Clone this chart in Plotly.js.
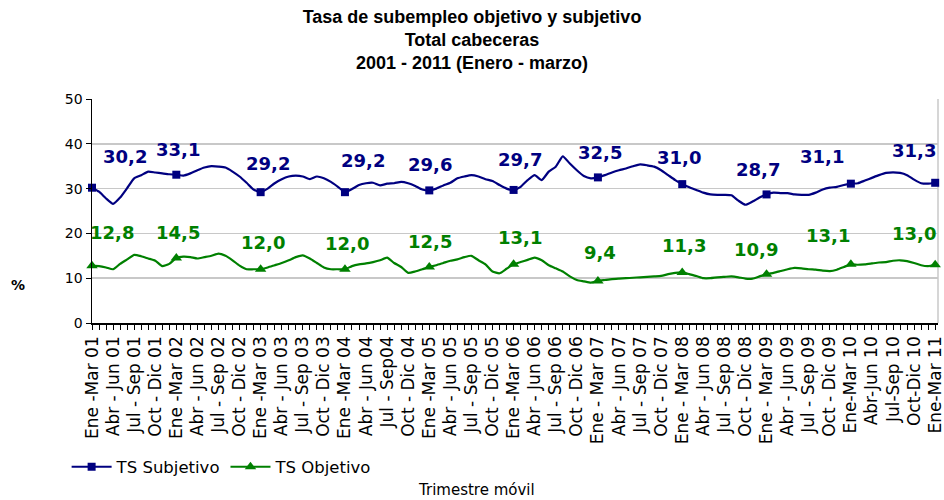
<!DOCTYPE html>
<html><head><meta charset="utf-8">
<script src="https://cdn.plot.ly/plotly-3.0.1.min.js"></script>
<style>html,body{margin:0;padding:0;background:#fff}#chart{width:944px;height:500px}</style>
</head><body><div id="chart"></div>
<script>
const tickLabels = [
  "Ene -Mar 01","Abr - Jun 01","Jul - Sep 01","Oct - Dic 01",
  "Ene -Mar 02","Abr - Jun 02","Jul - Sep 02","Oct - Dic 02",
  "Ene -Mar 03","Abr - Jun 03","Jul - Sep 03","Oct - Dic 03",
  "Ene -Mar 04","Abr - Jun 04","Jul - Sep04","Oct - Dic 04",
  "Ene -Mar 05","Abr - Jun 05","Jul - Sep 05","Oct - Dic 05",
  "Ene -Mar 06","Abr - Jun 06","Jul - Sep 06","Oct - Dic 06",
  "Ene - Mar 07","Abr - Jun 07","Jul - Sep 07","Oct - Dic 07",
  "Ene - Mar 08","Abr - Jun 08","Jul - Sep 08","Oct - Dic 08",
  "Ene - Mar 09","Abr - Jun 09","Jul - Sep 09","Oct - Dic 09",
  "Ene-Mar 10","Abr-Jun 10","Jul-Sep 10","Oct-Dic 10",
  "Ene-Mar 11"
];

const subjetivo = [
  30.2,29.3,27.8,26.6,28.0,30.1,32.3,33.0,33.8,33.6,33.4,33.2,
  33.1,32.9,33.4,34.1,34.7,35.0,34.9,34.7,33.8,32.7,31.3,29.8,
  29.2,30.0,31.2,32.1,32.7,32.9,32.7,32.1,32.7,32.3,31.5,30.4,
  29.2,29.9,30.8,31.2,31.3,30.7,31.1,31.2,31.5,31.2,30.6,29.8,
  29.6,30.0,30.7,31.3,32.3,32.7,33.0,32.7,32.1,31.7,30.8,30.0,
  29.7,30.4,31.9,33.0,31.9,33.8,34.9,37.2,35.6,34.1,32.8,32.3,
  32.5,33.0,33.6,34.1,34.5,35.0,35.4,35.2,34.9,34.1,33.0,31.9,
  31.0,30.3,29.7,29.1,28.7,28.6,28.6,28.5,27.3,26.4,27.1,28.0,
  28.7,29.1,29.0,29.0,28.7,28.6,28.6,29.1,29.8,30.2,30.4,30.8,
  31.1,31.2,31.8,32.4,33.0,33.5,33.6,33.5,33.0,32.0,31.2,31.1,
  31.3
];

const objetivo = [
  12.8,12.7,12.4,12.0,13.2,14.2,15.2,14.9,14.4,13.9,12.7,13.2,
  14.5,14.8,14.7,14.4,14.7,15.0,15.5,15.0,14.0,12.8,12.0,12.0,
  12.0,12.4,12.9,13.4,14.0,14.7,15.1,14.4,13.4,12.4,12.0,12.0,
  12.0,12.7,13.1,13.3,13.6,14.0,14.6,13.4,12.5,11.2,11.5,12.0,
  12.5,12.9,13.4,13.9,14.2,14.7,15.0,14.0,13.1,11.5,11.1,12.1,
  13.1,13.6,14.1,14.6,14.0,12.9,12.2,11.5,10.4,9.6,9.3,9.0,
  9.4,9.6,9.8,9.9,10.0,10.1,10.2,10.3,10.4,10.5,10.9,11.2,
  11.3,10.9,10.5,10.0,10.0,10.2,10.3,10.4,10.2,9.9,9.9,10.4,
  10.9,11.2,11.6,12.0,12.3,12.2,12.0,11.9,11.7,11.6,11.9,12.5,
  13.1,13.0,13.1,13.3,13.5,13.6,13.9,14.0,13.8,13.4,12.9,12.7,
  13.0
];

const seriesNames = ["TS Subjetivo", "TS Objetivo"];

// label placement offsets (px), styling only
const subjShiftX = [33, 2, 7, 18, 1, 6, 2, -3, -9, -29, -21];
const subjShiftY = [31, 25, 29, 32, 26, 30, 25, 27, 25, 27, 32];
const objShiftX  = [20, 2, 2, 2, 1, 6, 2, 2, -11, -23, -21];
const objShiftY  = [33, 26, 27, 26, 26, 27, 28, 27, 25, 29, 31];

const BLUE = "#000080", GREEN = "#008000";
const FONT = '"DejaVu Sans", "Liberation Sans", Arial, sans-serif';

const n = subjetivo.length;
const xs = Array.from({length: n}, (_, i) => i);
const markIdx = xs.filter(i => i % 12 === 0);
const tickvals = xs;
const ticktext = xs.map(i => (i % 3 === 0 ? tickLabels[i / 3] : ""));

function lineTrace(y, color) {
  return {x: xs, y: y, mode: "lines", type: "scatter", showlegend: false,
    line: {color: color, width: 2.2, shape: "spline", smoothing: 0.5},
    hoverinfo: "skip", cliponaxis: false};
}
function markTrace(y, color, sym, size) {
  return {x: markIdx, y: markIdx.map(i => y[i]), mode: "markers", type: "scatter",
    showlegend: false, cliponaxis: false,
    marker: {color: color, symbol: sym, size: size, line: {width: 0}}};
}
function legTrace(name, color, sym, size) {
  return {x: [null], y: [null], mode: "lines+markers", type: "scatter", name: name,
    line: {color: color, width: 2.2}, marker: {color: color, symbol: sym, size: size}};
}

const data = [
  lineTrace(subjetivo, BLUE), markTrace(subjetivo, BLUE, "square", 8),
  lineTrace(objetivo, GREEN), markTrace(objetivo, GREEN, "triangle-up", 10),
  legTrace(seriesNames[0], BLUE, "square", 8),
  legTrace(seriesNames[1], GREEN, "triangle-up", 10)
];

const fmt = v => v.toFixed(1).replace(".", ",");
const annotations = [];
markIdx.forEach((i, k) => {
  annotations.push({x: i, y: subjetivo[i], text: "<b>" + fmt(subjetivo[i]) + "</b>",
    showarrow: false, xshift: subjShiftX[k], yshift: subjShiftY[k],
    xanchor: "center", yanchor: "middle",
    font: {family: FONT, size: 18, color: BLUE}});
  annotations.push({x: i, y: objetivo[i], text: "<b>" + fmt(objetivo[i]) + "</b>",
    showarrow: false, xshift: objShiftX[k], yshift: objShiftY[k],
    xanchor: "center", yanchor: "middle",
    font: {family: FONT, size: 18, color: GREEN}});
});
annotations.push({xref: "paper", yref: "paper", x: -0.0875, y: 0.17, text: "<b>%</b>",
  xanchor: "center", yanchor: "middle",
  showarrow: false, font: {family: FONT, size: 14, color: "#000"}});
annotations.push({xref: "paper", yref: "paper", x: 0.455, y: -0.745, text: "Trimestre móvil",
  xanchor: "center", yanchor: "middle",
  showarrow: false, font: {family: FONT, size: 15, color: "#000"}});

const layout = {
  width: 944, height: 500,
  margin: {l: 92, r: 6, t: 99, b: 177, pad: 0},
  paper_bgcolor: "#fff", plot_bgcolor: "#fff",
  title: {text: "<b>Tasa de subempleo objetivo y subjetivo<br>Total cabeceras<br>2001 - 2011 (Enero - marzo)</b>",
    font: {family: '"Liberation Sans Narrow", "Arial Narrow", sans-serif', size: 18, color: "#000"},
    x: 0.5, xref: "container", y: 0.955, yref: "container", yanchor: "top"},
  xaxis: {range: [0, 120.4], tickmode: "array", tickvals: tickvals, ticktext: ticktext,
    tickangle: -90, ticks: "outside", ticklen: 5, tickcolor: "#000", tickwidth: 1,
    showline: true, linecolor: "#000", linewidth: 1.5, showgrid: false, zeroline: false,
    ticklabeloverflow: "allow",
    tickfont: {family: FONT, size: 17, color: "#000"}, automargin: false, fixedrange: true},
  yaxis: {range: [0, 50], tickmode: "linear", tick0: 0, dtick: 10, ticks: "outside", ticklen: 5,
    tickcolor: "#000", showline: true, linecolor: "#000", linewidth: 1.5,
    gridcolor: "#c8c8c8", gridwidth: 1.5, zeroline: false,
    tickfont: {family: FONT, size: 14, color: "#000"}, automargin: false, fixedrange: true},
  legend: {orientation: "h", x: -0.03, xanchor: "left", y: -0.643, yanchor: "middle",
    font: {family: FONT, size: 16.5, color: "#000"}, bgcolor: "rgba(0,0,0,0)", itemwidth: 40},
  shapes: [{type: "line", xref: "paper", yref: "paper", x0: 1, x1: 1, y0: 0, y1: 1,
    line: {color: "#c8c8c8", width: 1.5}, layer: "below"}],
  annotations: annotations
};

Plotly.newPlot("chart", data, layout, {displayModeBar: false, staticPlot: true});
</script>
</body></html>
